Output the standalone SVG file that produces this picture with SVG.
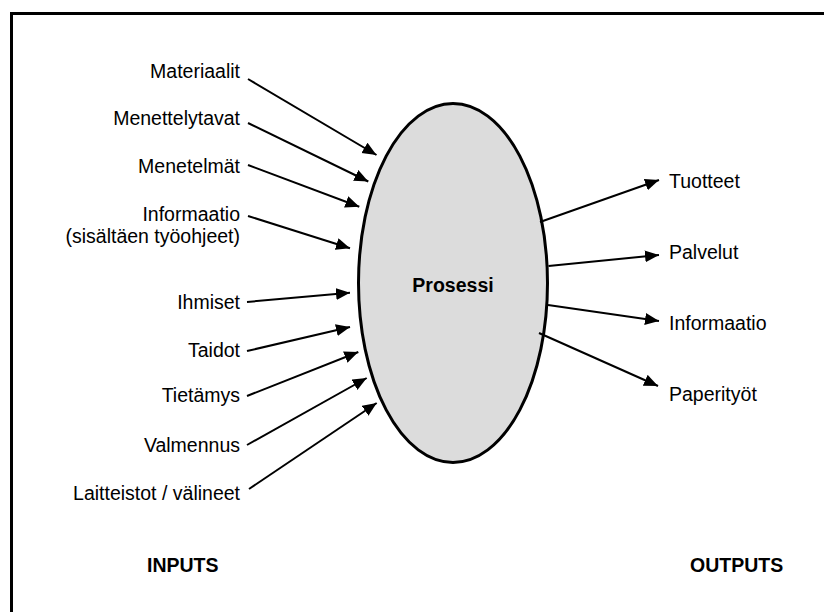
<svg xmlns="http://www.w3.org/2000/svg" width="824" height="612" viewBox="0 0 824 612">
  <style>
    .lbl { font-family: "Liberation Sans", Arial, sans-serif; font-size: 19.5px; fill: #000; }
    .in { text-anchor: end; }
    .hdr { font-family: "Liberation Sans", Arial, sans-serif; font-size: 19.5px; font-weight: bold; fill: #000; }
    .arrow { stroke: #000; stroke-width: 2; fill: none; marker-end: url(#head); }
  </style>
  <defs>
    <marker id="head" markerUnits="userSpaceOnUse" markerWidth="15" markerHeight="13" refX="14" refY="6" orient="auto">
      <path d="M0,0 L14,6 L0,12 Z" fill="#000"/>
    </marker>
  </defs>
  <rect width="824" height="612" fill="#fff"/>

  <!-- frame: left and top edges -->
  <path d="M11.5,612 V13.5 H824" fill="none" stroke="#000" stroke-width="3"/>

  <!-- central process -->
  <g id="process">
    <ellipse cx="453" cy="283" rx="94.5" ry="179.5" fill="#dcdcdc" stroke="#000" stroke-width="3"/>
    <text class="hdr" x="453" y="292" text-anchor="middle" font-size="22">Prosessi</text>
  </g>

  <!-- inputs -->
  <g id="in-materiaalit"><text class="lbl in" x="240" y="78">Materiaalit</text></g>
  <g id="in-menettelytavat"><text class="lbl in" x="240" y="125">Menettelytavat</text></g>
  <g id="in-menetelmat"><text class="lbl in" x="240" y="173">Menetelmät</text></g>
  <g id="in-informaatio">
    <text class="lbl in" x="240" y="221">Informaatio</text>
    <text class="lbl in" x="240" y="243">(sisältäen työohjeet)</text>
  </g>
  <g id="in-ihmiset"><text class="lbl in" x="240" y="309">Ihmiset</text></g>
  <g id="in-taidot"><text class="lbl in" x="240" y="357">Taidot</text></g>
  <g id="in-tietamys"><text class="lbl in" x="240" y="402">Tietämys</text></g>
  <g id="in-valmennus"><text class="lbl in" x="240" y="452">Valmennus</text></g>
  <g id="in-laitteistot"><text class="lbl in" x="240" y="500">Laitteistot / välineet</text></g>

  <!-- outputs -->
  <g id="out-tuotteet"><text class="lbl" x="669" y="188">Tuotteet</text></g>
  <g id="out-palvelut"><text class="lbl" x="669" y="259">Palvelut</text></g>
  <g id="out-informaatio"><text class="lbl" x="669" y="330">Informaatio</text></g>
  <g id="out-paperityot"><text class="lbl" x="669" y="401">Paperityöt</text></g>

  <!-- column headings -->
  <g id="heading-inputs"><text class="hdr" x="147" y="572">INPUTS</text></g>
  <g id="heading-outputs"><text class="hdr" x="690" y="572">OUTPUTS</text></g>

  <!-- connectors -->
  <g id="connectors">
    <line class="arrow" x1="248" y1="79" x2="376.5" y2="155"/>
    <line class="arrow" x1="248" y1="123" x2="368.3" y2="181.5"/>
    <line class="arrow" x1="248" y1="165" x2="359.3" y2="206.7"/>
    <line class="arrow" x1="248" y1="216" x2="350" y2="248.3"/>
    <line class="arrow" x1="247" y1="302" x2="350" y2="292.7"/>
    <line class="arrow" x1="247" y1="351" x2="350" y2="327"/>
    <line class="arrow" x1="247" y1="396" x2="358.3" y2="352"/>
    <line class="arrow" x1="247" y1="445" x2="366.7" y2="378"/>
    <line class="arrow" x1="249" y1="489" x2="376.7" y2="403"/>

    <line class="arrow" x1="540" y1="222" x2="659" y2="180"/>
    <line class="arrow" x1="548.5" y1="266" x2="659" y2="255"/>
    <line class="arrow" x1="548" y1="305" x2="659" y2="321"/>
    <line class="arrow" x1="539" y1="333" x2="658" y2="386"/>
  </g>
</svg>
